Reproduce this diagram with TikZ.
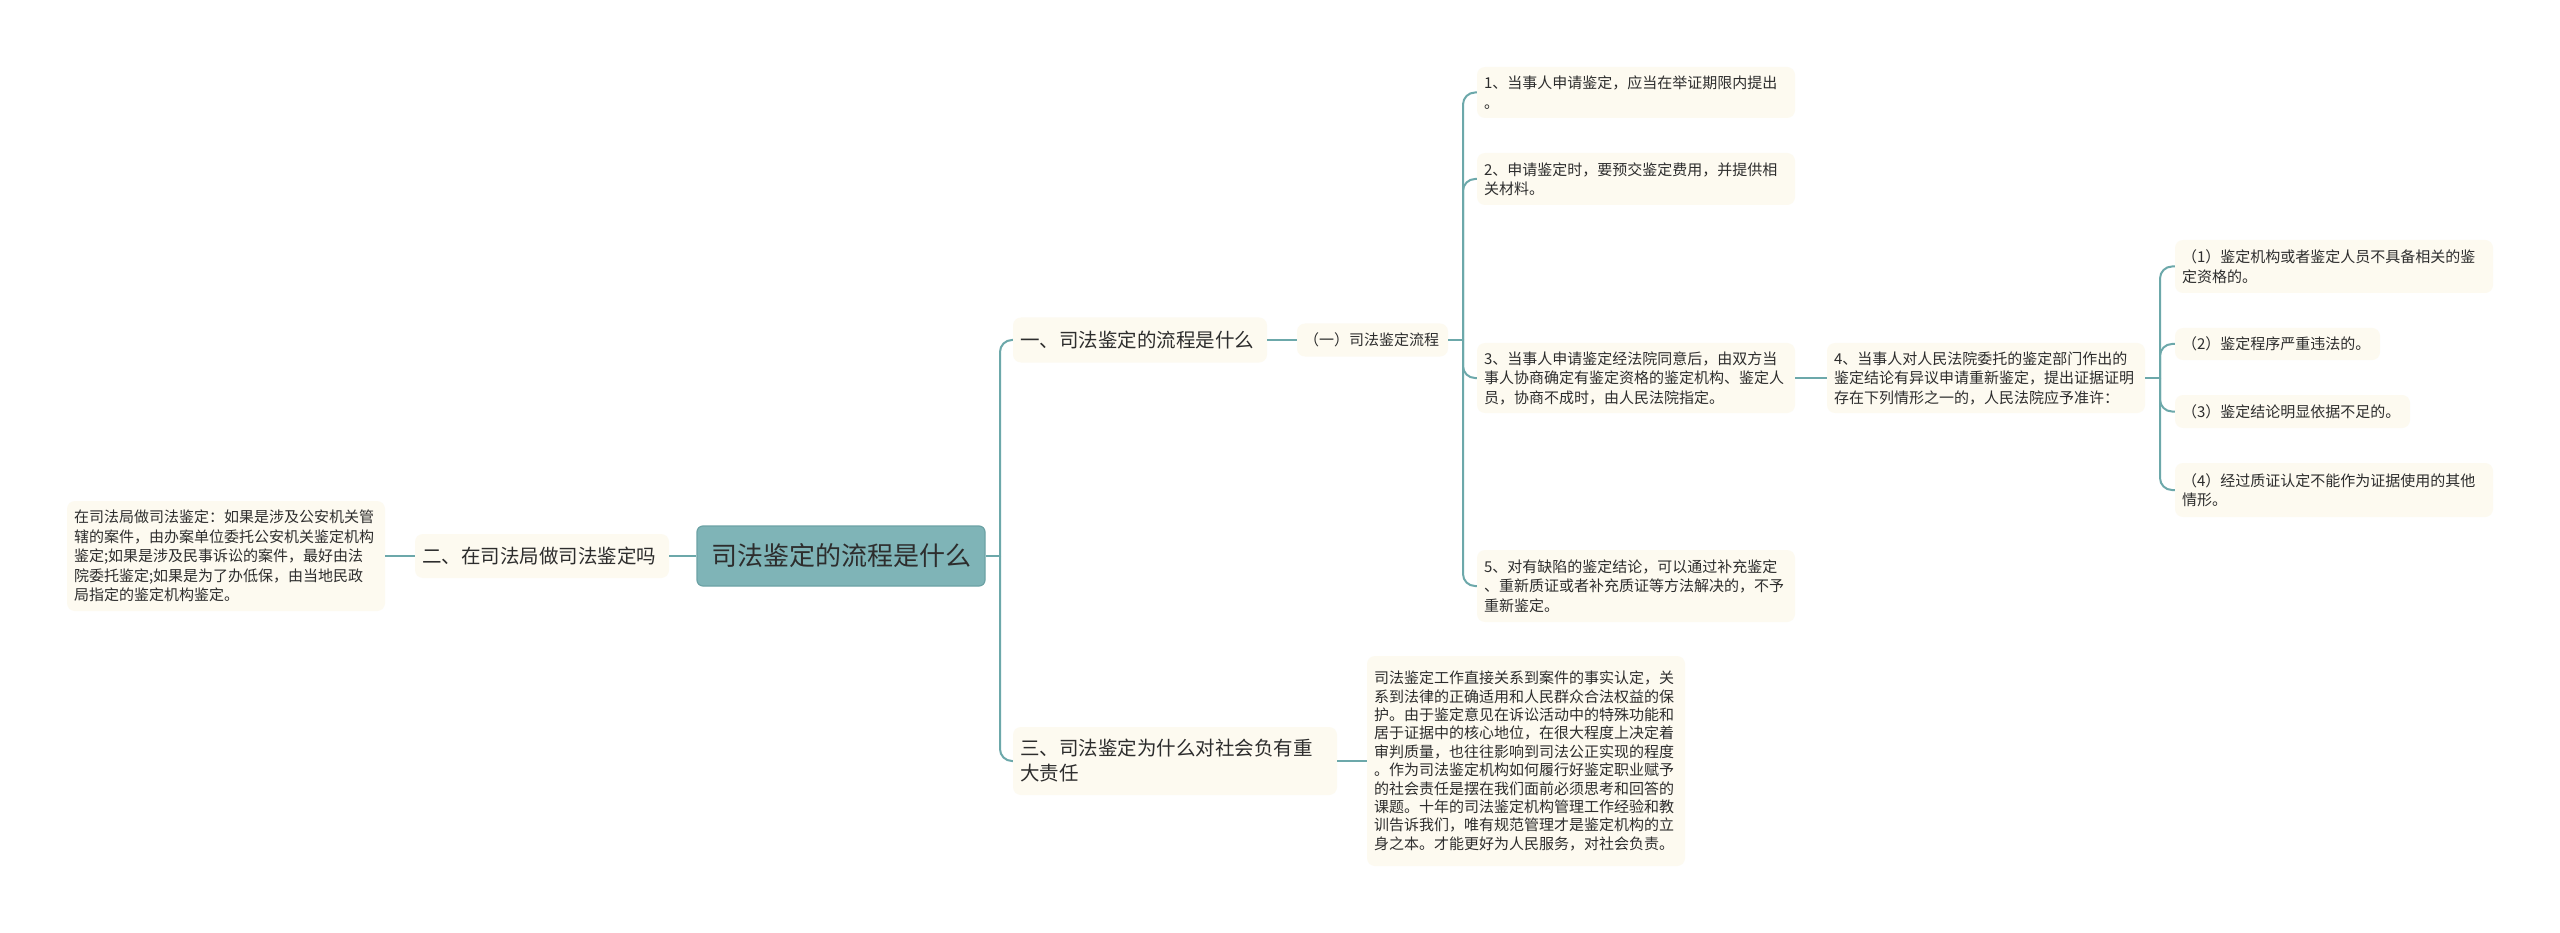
\documentclass[tikz,border=0pt]{standalone}
\usepackage{fontspec}
\setmainfont{Noto Sans CJK SC}
\definecolor{linec}{RGB}{108,168,170}
\definecolor{rootc}{RGB}{127,180,183}
\definecolor{rootb}{RGB}{108,162,165}
\definecolor{boxc}{RGB}{253,250,240}
\definecolor{txt}{RGB}{45,45,45}
\begin{document}
\begin{tikzpicture}[x=1pt,y=-1pt,
  box/.style={fill=boxc, rounded corners=8pt, inner xsep=7pt, inner ysep=0pt, align=left, text=txt, anchor=center},
  small/.style={box, font=\fontsize{15}{19.5}\selectfont},
  lvl/.style={box, font=\fontsize{19.5}{25}\selectfont},
  conn/.style={draw=linec, line width=2pt, rounded corners=12pt}]
\useasboundingbox (0,0) rectangle (2560,933);
\fill[white] (0,0) rectangle (2560,933);

% root
\node[fill=rootc, draw=rootb, line width=1.2pt, rounded corners=6pt, minimum width=288pt, minimum height=60pt, inner sep=0pt, text=txt, font=\fontsize{26}{30}\selectfont] (root) at (841,556) {司法鉴定的流程是什么};

% left
\node[lvl, text width=240pt, minimum height=44pt] (two) at (542,556) {二、在司法局做司法鉴定吗};
\node[small, text width=304pt, minimum height=110pt] (leaf2) at (226,556) {在司法局做司法鉴定：如果是涉及公安机关管\\辖的案件，由办案单位委托公安机关鉴定机构\\鉴定;如果是涉及民事诉讼的案件，最好由法\\院委托鉴定;如果是为了办低保，由当地民政\\局指定的鉴定机构鉴定。};

% right level 1
\node[lvl, text width=240pt, minimum height=45pt] (one) at (1140,340) {一、司法鉴定的流程是什么};
\node[lvl, text width=310pt, minimum height=68pt] (three) at (1175,761) {三、司法鉴定为什么对社会负有重\\大责任};
\node[small, text width=304pt, minimum height=210pt, font=\fontsize{15}{18.4}\selectfont] (long) at (1526,761) {司法鉴定工作直接关系到案件的事实认定，关\\系到法律的正确适用和人民群众合法权益的保\\护。由于鉴定意见在诉讼活动中的特殊功能和\\居于证据中的核心地位，在很大程度上决定着\\审判质量，也往往影响到司法公正实现的程度\\。作为司法鉴定机构如何履行好鉴定职业赋予\\的社会责任是摆在我们面前必须思考和回答的\\课题。十年的司法鉴定机构管理工作经验和教\\训告诉我们，唯有规范管理才是鉴定机构的立\\身之本。才能更好为人民服务，对社会负责。};

\node[small, text width=137pt, minimum height=33pt] (sub1) at (1372.5,340) {（一）司法鉴定流程};

% items
\node[small, text width=304pt, minimum height=51pt] (i1) at (1636,92.5) {1、当事人申请鉴定，应当在举证期限内提出\\。};
\node[small, text width=304pt, minimum height=52pt] (i2) at (1636,179) {2、申请鉴定时，要预交鉴定费用，并提供相\\关材料。};
\node[small, text width=304pt, minimum height=70pt] (i3) at (1636,378) {3、当事人申请鉴定经法院同意后，由双方当\\事人协商确定有鉴定资格的鉴定机构、鉴定人\\员，协商不成时，由人民法院指定。};
\node[small, text width=304pt, minimum height=72pt] (i5) at (1636,586) {5、对有缺陷的鉴定结论，可以通过补充鉴定\\、重新质证或者补充质证等方法解决的，不予\\重新鉴定。};
\node[small, text width=304pt, minimum height=70pt] (i4) at (1986,378) {4、当事人对人民法院委托的鉴定部门作出的\\鉴定结论有异议申请重新鉴定，提出证据证明\\存在下列情形之一的，人民法院应予准许：};

% sub items
\node[small, text width=304pt, minimum height=53pt] (s1) at (2334,266.5) {（1）鉴定机构或者鉴定人员不具备相关的鉴\\定资格的。};
\node[small, text width=191pt, minimum height=32pt] (s2) at (2277.5,344) {（2）鉴定程序严重违法的。};
\node[small, text width=221pt, minimum height=33pt] (s3) at (2292.5,411.5) {（3）鉴定结论明显依据不足的。};
\node[small, text width=304pt, minimum height=54pt] (s4) at (2334,490) {（4）经过质证认定不能作为证据使用的其他\\情形。};

% connectors
\draw[conn] (leaf2.east) -- (two.west);
\draw[conn] (two.east) -- (root.west);
\coordinate (rs) at (1000,556);
\draw[conn] (root.east) -- (rs);
\draw[conn] (rs) |- (one.west);
\draw[conn] (rs) |- (three.west);
\draw[conn] (three.east) -- (long.west);
\draw[conn] (one.east) -- (sub1.west);
\coordinate (ss) at (1463,340);
\draw[conn] (sub1.east) -- (ss);
\draw[conn] (ss) |- (i1.west);
\draw[conn] (ss) |- (i2.west);
\draw[conn] (ss) |- (i3.west);
\draw[conn] (ss) |- (i5.west);
\draw[conn] (i3.east) -- (i4.west);
\coordinate (fs) at (2160,378);
\draw[conn] (i4.east) -- (fs);
\draw[conn] (fs) |- (s1.west);
\draw[conn] (fs) |- (s2.west);
\draw[conn] (fs) |- (s3.west);
\draw[conn] (fs) |- (s4.west);
\end{tikzpicture}
\end{document}
